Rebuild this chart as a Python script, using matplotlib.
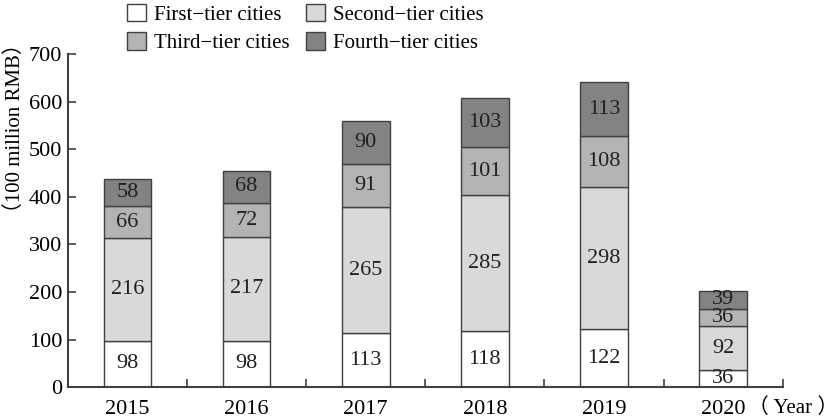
import matplotlib.pyplot as plt
import numpy as np

years = ['2015', '2016', '2017', '2018', '2019', '2020']
first_tier = [98, 98, 113, 118, 122, 36]
second_tier = [216, 217, 265, 285, 298, 92]
third_tier = [66, 72, 91, 101, 108, 36]
fourth_tier = [58, 68, 90, 103, 113, 39]

series = [
    ('First\u2212tier cities', first_tier, '#ffffff'),
    ('Second\u2212tier cities', second_tier, '#d9d9db'),
    ('Third\u2212tier cities', third_tier, '#b3b3b5'),
    ('Fourth\u2212tier cities', fourth_tier, '#838385'),
]

serif = ['Liberation Serif', 'Noto Sans CJK SC']
plt.rcParams['font.family'] = serif
plt.rcParams['font.size'] = 16

fig = plt.figure(figsize=(8.38, 4.19), dpi=100)
ax = fig.add_axes([0.081, 0.076, 0.853, 0.795])

x = np.arange(len(years))
bottom = np.zeros(len(years))
handles = []
for name, vals, color in series:
    bars = ax.bar(x, vals, 0.4, bottom=bottom, color=color,
                  edgecolor='#404040', linewidth=1.0, label=name)
    handles.append(bars)
    for xi, b, v in zip(x, bottom, vals):
        ax.text(xi, b + v / 2, str(v), ha='center', va='center',
                fontsize=16, color='#231f20')
    bottom += np.array(vals)

ax.set_xlim(-0.5, 5.5)
ax.set_ylim(0, 700)
ax.set_yticks(range(0, 701, 100))
ax.set_xticks(x)
ax.set_xticklabels(years)
ax.set_xticks(np.arange(0.5, 6.0, 1.0), minor=True)
ax.tick_params(axis='x', which='major', length=0, pad=9)
ax.tick_params(axis='x', which='minor', direction='in', length=6,
               width=1.2, color='#404040')
ax.tick_params(axis='y', direction='in', length=6, width=1.2,
               color='#404040', pad=4)
for side in ['top', 'right']:
    ax.spines[side].set_visible(False)
for side in ['left', 'bottom']:
    ax.spines[side].set_linewidth(1.5)
    ax.spines[side].set_color('#404040')

fig.text(0.018, 0.695, '（100 million RMB）', rotation=90,
         ha='center', va='center', fontsize=15, family=serif)
fig.text(1.0, 0.026, '（ Year ）', ha='right', va='center', fontsize=15,
         family=serif)

# legend fills column-wise, so order handles to give rows First/Second, Third/Fourth
order = [0, 2, 1, 3]
fig.legend(handles=[handles[i] for i in order], loc='upper left',
           bbox_to_anchor=(0.129, 1.035), ncol=2, frameon=False,
           handlelength=0.9, handleheight=0.9, handletextpad=0.4,
           columnspacing=0.8, labelspacing=0.35, fontsize=15)

fig.savefig('out.png', dpi=100)
